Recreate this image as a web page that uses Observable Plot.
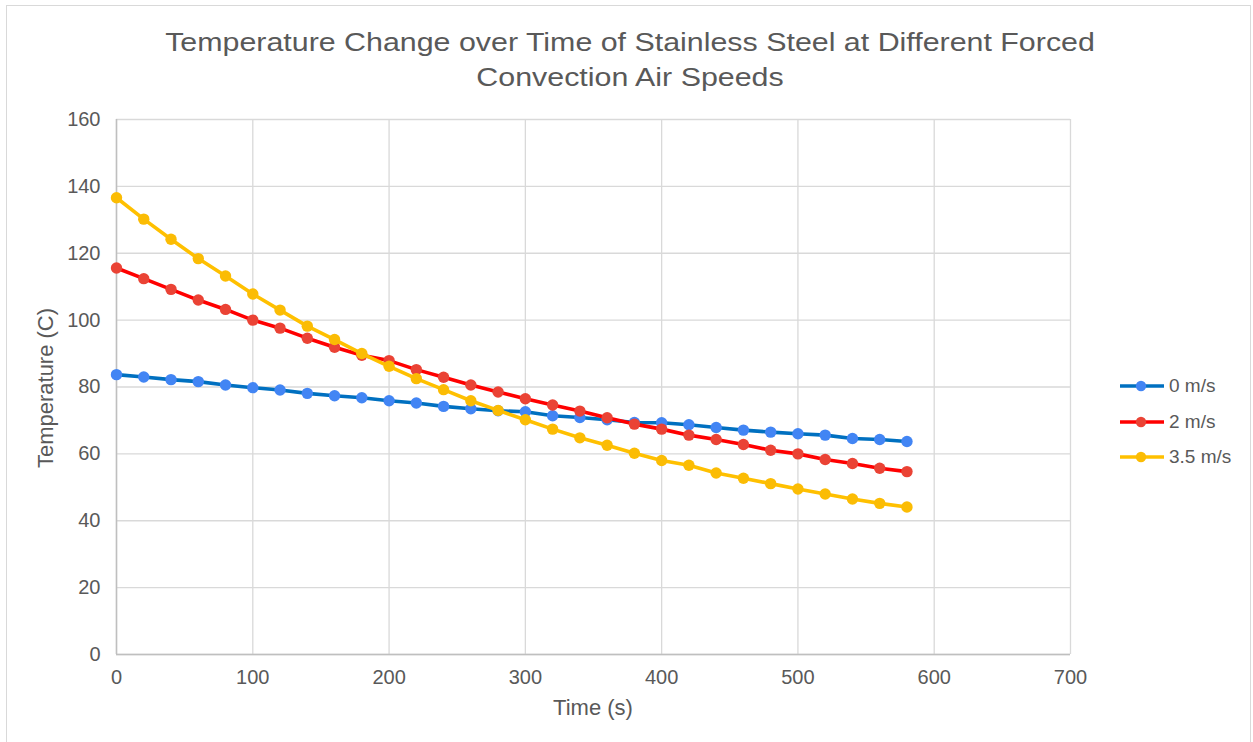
<!DOCTYPE html>
<html>
<head>
<meta charset="utf-8">
<script src="https://cdn.jsdelivr.net/npm/d3@7"></script>
<script src="https://cdn.jsdelivr.net/npm/@observablehq/plot@0.6"></script>
<style>
  html, body { margin: 0; padding: 0; background: #fff; }
  body { width: 1253px; height: 742px; position: relative; overflow: hidden; font-family: "Liberation Sans", Arial, sans-serif; color: #595959; }
  #border { position: absolute; left: 6px; top: 5px; width: 1245px; height: 760px; border: 1.5px solid #d9d9d9; box-sizing: border-box; }
  #chart { position: absolute; left: 0; top: 0; }
  .title { position: absolute; left: 630px; white-space: nowrap; font-size: 25px; transform: translate(-50%, -50%) scaleX(1.215); color: #595959; }
  #ylab { position: absolute; left: 46px; top: 388px; font-size: 22px; white-space: nowrap; transform: translate(-50%, -50%) rotate(-90deg); }
  #xlab { position: absolute; left: 593px; top: 708px; font-size: 22px; white-space: nowrap; transform: translate(-50%, -50%); }
  #legend { position: absolute; left: 1120px; top: 368px; }
  .item { display: flex; align-items: center; height: 35.8px; font-size: 19px; color: #595959; }
  .item svg { margin-right: 5px; }
</style>
</head>
<body>
<div id="border"></div>
<div id="chart"></div>
<div class="title" style="top:42px">Temperature Change over Time of Stainless Steel at Different Forced</div>
<div class="title" style="top:77px">Convection Air Speeds</div>
<div id="ylab">Temperature (C)</div>
<div id="xlab">Time (s)</div>
<div id="legend"></div>
<script>
const time = [0, 20, 40, 60, 80, 100, 120, 140, 160, 180, 200, 220, 240, 260, 280, 300, 320, 340, 360, 380, 400, 420, 440, 460, 480, 500, 520, 540, 560, 580];
const speed0 = [83.7, 83.0, 82.2, 81.6, 80.6, 79.8, 79.1, 78.1, 77.4, 76.8, 75.9, 75.2, 74.2, 73.5, 72.9, 72.6, 71.4, 70.9, 70.2, 69.4, 69.3, 68.7, 67.9, 67.1, 66.5, 66.0, 65.6, 64.6, 64.3, 63.7];
const speed2 = [115.6, 112.4, 109.2, 106.0, 103.2, 100.0, 97.6, 94.6, 91.9, 89.5, 87.9, 85.2, 82.9, 80.6, 78.5, 76.5, 74.6, 72.8, 70.8, 68.9, 67.4, 65.6, 64.3, 62.8, 61.1, 60.0, 58.3, 57.1, 55.7, 54.7];
const speed35 = [136.6, 130.2, 124.2, 118.4, 113.2, 107.8, 103.0, 98.2, 94.2, 90.0, 86.2, 82.5, 79.2, 75.9, 73.0, 70.2, 67.4, 64.8, 62.6, 60.2, 58.0, 56.6, 54.3, 52.7, 51.1, 49.5, 48.0, 46.5, 45.2, 44.1];
const seriesNames = ["0 m/s", "2 m/s", "3.5 m/s"];
const xTicks = [0, 100, 200, 300, 400, 500, 600, 700];
const yTicks = [0, 20, 40, 60, 80, 100, 120, 140, 160];

const lineColors = ["#0070C0", "#FF0000", "#FFC000"];
const dotColors = ["#4285F4", "#EA4335", "#FBBC04"];
const values = [speed0, speed2, speed35];

const series = values.map((vals, i) => time.map((t, j) => ({t, v: vals[j], s: seriesNames[i]})));

const marks = [
  Plot.gridX(xTicks, {stroke: "#d9d9d9", strokeOpacity: 1, strokeWidth: 1.3}),
  Plot.gridY(yTicks, {stroke: "#d9d9d9", strokeOpacity: 1, strokeWidth: 1.3}),
  Plot.ruleX([0], {stroke: "#bfbfbf", strokeWidth: 1.5}),
  Plot.ruleY([0], {stroke: "#bfbfbf", strokeWidth: 1.5}),
  Plot.axisX(xTicks, {tickSize: 0, tickPadding: 15, label: null, fill: "#595959"}),
  Plot.axisY(yTicks, {tickSize: 0, tickPadding: 16, label: null, fill: "#595959"})
];
series.forEach((d, i) => {
  marks.push(Plot.line(d, {x: "t", y: "v", stroke: lineColors[i], strokeWidth: 3.6}));
  marks.push(Plot.dot(d, {x: "t", y: "v", fill: dotColors[i], r: 5.7, stroke: "none"}));
});

const chart = Plot.plot({
  width: 1253,
  height: 742,
  marginLeft: 116,
  marginRight: 183,
  marginTop: 119,
  marginBottom: 88,
  x: {domain: [0, 700]},
  y: {domain: [0, 160]},
  style: {fontFamily: "'Liberation Sans', Arial, sans-serif", fontSize: "20px", background: "transparent", overflow: "visible"},
  marks
});
document.getElementById("chart").appendChild(chart);

const legend = document.getElementById("legend");
seriesNames.forEach((name, i) => {
  const row = document.createElement("div");
  row.className = "item";
  row.innerHTML = `<svg width="44" height="14"><line x1="0" x2="44" y1="7" y2="7" stroke="${lineColors[i]}" stroke-width="3.6"/><circle cx="21" cy="7" r="5.2" fill="${dotColors[i]}"/></svg><span>${name}</span>`;
  legend.appendChild(row);
});
</script>
</body>
</html>
